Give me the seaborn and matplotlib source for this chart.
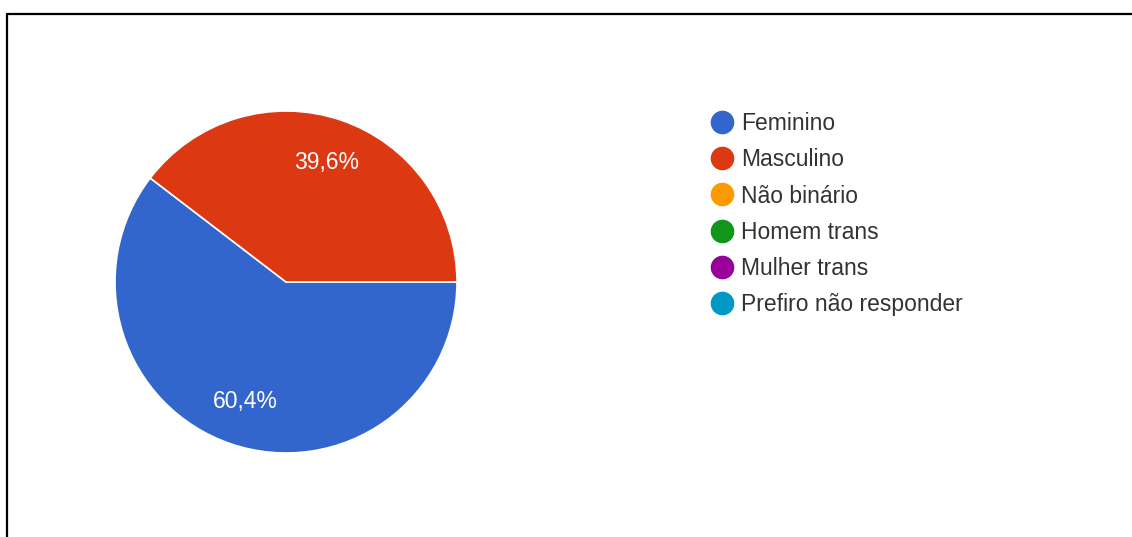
import matplotlib
matplotlib.use("Agg")
import matplotlib.pyplot as plt
from matplotlib.lines import Line2D
import numpy as np
import seaborn as sns

# Survey answers: gender distribution
categories = ["Feminino", "Masculino", "Não binário", "Homem trans",
              "Mulher trans", "Prefiro não responder"]
values = [60.4, 39.6, 0.0, 0.0, 0.0, 0.0]
pct_labels = ["60,4%", "39,6%"]
colors = ["#3366CC", "#DC3912", "#FF9900", "#109618", "#990099", "#0099C6"]

sns.set_theme(style="white")
plt.rcParams["font.family"] = ["Liberation Sans", "DejaVu Sans"]

W, H = 1132, 537
fig = plt.figure(figsize=(W / 100, H / 100), dpi=100)
fig.patch.set_facecolor("white")

# Pie axes placed in pixel space: centre (286, 282), radius 171
cx, cy, r = 286, 282, 171
ax = fig.add_axes([(cx - r) / W, (H - cy - r) / H, 2 * r / W, 2 * r / H])

shown = [v for v in values if v > 0]
wedges, _ = ax.pie(
    shown,
    colors=sns.color_palette(colors[:len(shown)]),
    startangle=0,
    counterclock=False,
    radius=1.0,
    wedgeprops=dict(edgecolor="white", linewidth=1.2),
)

# Percentage labels placed at each wedge's mid-angle
theta0 = 0.0
for v, lab in zip(shown, pct_labels):
    sweep = 360.0 * v / sum(shown)
    mid = np.deg2rad(theta0 - sweep / 2)
    ax.text(0.735 * np.cos(mid), 0.735 * np.sin(mid), lab,
            ha="center", va="center", color="white", fontsize=16.5)
    theta0 -= sweep

ax.set_xlim(-1, 1)
ax.set_ylim(-1, 1)
ax.set_aspect("equal")
ax.axis("off")

# Legend with round markers for every answer option
handles = [Line2D([0], [0], marker="o", linestyle="none", markersize=16,
                  markerfacecolor=c, markeredgecolor=c) for c in colors]
leg = fig.legend(handles, categories, loc="upper left",
                 bbox_to_anchor=(701 / W, 1 - 103 / H),
                 frameon=False, fontsize=16.5, labelspacing=0.575,
                 handletextpad=0.35, handlelength=1.0, borderaxespad=0)
for t in leg.get_texts():
    t.set_color("#333333")

# Frame lines along the left and top edges
fig.add_artist(Line2D([7 / W, 7 / W], [0, 1 - 13.5 / H], color="black",
                      linewidth=1.6, transform=fig.transFigure))
fig.add_artist(Line2D([7 / W, 1], [1 - 13.5 / H, 1 - 13.5 / H], color="black",
                      linewidth=1.6, transform=fig.transFigure))

fig.savefig("out.png", dpi=100)
